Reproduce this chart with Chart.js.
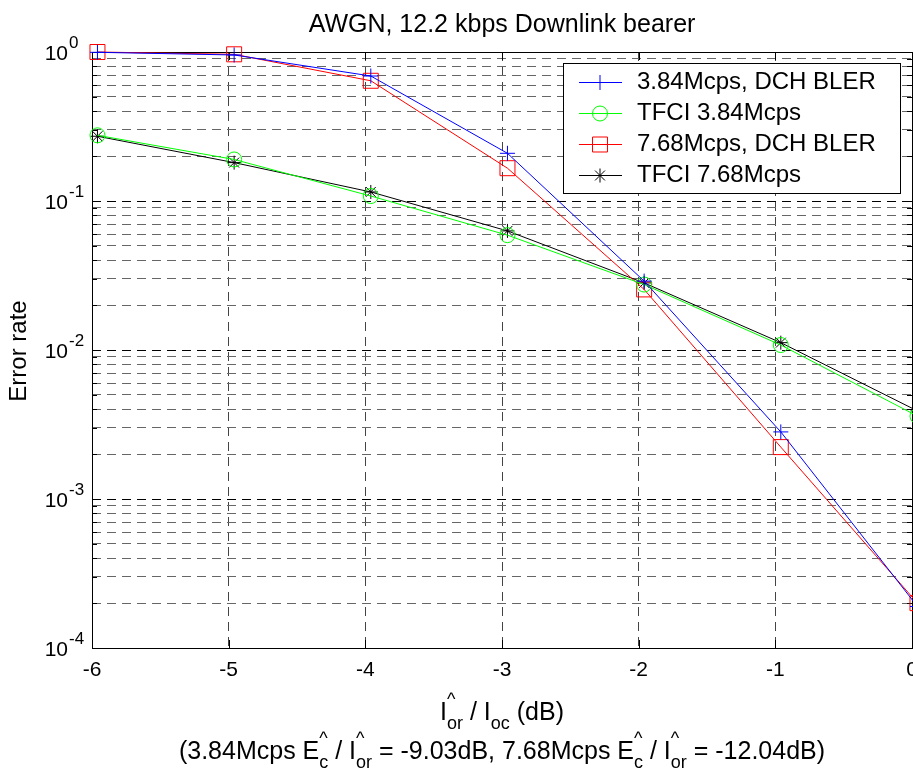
<!DOCTYPE html>
<html><head><meta charset="utf-8">
<script src="https://cdn.jsdelivr.net/npm/chart.js@4.4.1/dist/chart.umd.min.js"></script>
<style>html,body{margin:0;padding:0;background:#fff;overflow:hidden}#wrap{position:relative;width:913px;height:769px;overflow:hidden}#c{position:absolute;left:0;top:0}</style>
</head><body><div id="wrap"><canvas id="c" width="953" height="769"></canvas></div>
<script>
// ---- data ----
const xValues = [-5.96, -4.96, -3.96, -2.96, -1.96, -0.96, 0.04];
const bler384 = [0.995, 0.955, 0.69, 0.209, 0.029, 0.00282, 1.9e-4];
const tfci384 = [0.276, 0.19, 0.108, 0.059, 0.0275, 0.0108, 0.0036];
const bler768 = [1.0, 0.965, 0.641, 0.166, 0.0255, 0.00223, 2.0e-4];
const tfci768 = [0.272, 0.181, 0.115, 0.063, 0.0282, 0.0112, 0.0039];
const seriesNames = ['3.84Mcps, DCH BLER', 'TFCI 3.84Mcps', '7.68Mcps, DCH BLER', 'TFCI 7.68Mcps'];
const xTicks = [-6, -5, -4, -3, -2, -1, 0];
const yDecades = [-4, -3, -2, -1, 0];
const titleText = 'AWGN, 12.2 kbps Downlink bearer';
const yLabel = 'Error rate';

// ---- layout / style ----
const CW = 953, H = 769;
const AREA = {left: 92, right: 912, top: 52, bottom: 648};
const FONT = '"Liberation Sans", Arial, Helvetica, sans-serif';
const DASH = [9, 6];

const yGridValues = [];
yDecades.forEach(k => {
  if (k === 0) { yGridValues.push(1); return; }
  for (let m = 1; m <= 9; m++) yGridValues.push(+(m * Math.pow(10, k)).toPrecision(6));
});
const isDecade = v => Math.abs(Math.log10(v) - Math.round(Math.log10(v))) < 1e-9;

function mk(i, data, color, style, radius) {
  return {
    label: seriesNames[i],
    data: xValues.map((x, j) => ({x: x, y: data[j]})),
    borderColor: color, backgroundColor: 'rgba(0,0,0,0)',
    borderWidth: 1, tension: 0, clip: false,
    pointStyle: style, pointRadius: radius, pointHoverRadius: radius,
    pointBorderColor: color, pointBackgroundColor: 'rgba(0,0,0,0)', pointBorderWidth: 1
  };
}

function drawMixed(ctx, parts, cx, baseY, main, small) {
  const mf = main + 'px ' + FONT, sf = small + 'px ' + FONT;
  let total = 0;
  const widths = parts.map(p => {
    if (p.t !== undefined) { ctx.font = mf; return ctx.measureText(p.t).width; }
    ctx.font = sf;
    return Math.max(p.sup ? ctx.measureText(p.sup).width : 0, p.sub ? ctx.measureText(p.sub).width : 0);
  });
  widths.forEach(w => total += w);
  let x = cx - total / 2;
  ctx.textAlign = 'left'; ctx.textBaseline = 'alphabetic'; ctx.fillStyle = '#000';
  parts.forEach((p, i) => {
    if (p.t !== undefined) { ctx.font = mf; ctx.fillText(p.t, x, baseY); }
    else {
      ctx.font = sf;
      if (p.sup) ctx.fillText(p.sup, x, baseY - main * 0.6);
      if (p.sub) ctx.fillText(p.sub, x, baseY + 9);
    }
    x += widths[i];
  });
}

const decor = {
  id: 'decor',
  beforeDraw(chart) {
    const c = chart.ctx; c.save(); c.fillStyle = '#fff'; c.fillRect(0, 0, CW, H); c.restore();
  },
  beforeDatasetsDraw(chart) {
    const c = chart.ctx, a = chart.chartArea;
    const xs = chart.scales.x, ys = chart.scales.y;
    c.save();
    c.strokeStyle = '#000'; c.lineWidth = 1; c.setLineDash([]);
    c.strokeRect(Math.round(a.left) + 0.5, Math.round(a.top) + 0.5, Math.round(a.right - a.left), Math.round(a.bottom - a.top));
    c.beginPath();
    xTicks.forEach(v => {
      const px = Math.round(xs.getPixelForValue(v)) + 0.5;
      c.moveTo(px, a.bottom); c.lineTo(px, a.bottom - 8);
      c.moveTo(px, a.top); c.lineTo(px, a.top + 8);
    });
    yGridValues.forEach(v => {
      const py = Math.round(ys.getPixelForValue(v)) + 0.5;
      const len = isDecade(v) ? 8 : 5;
      c.moveTo(a.left, py); c.lineTo(a.left + len, py);
      c.moveTo(a.right, py); c.lineTo(a.right - len, py);
    });
    c.stroke();
    c.restore();
  },
  afterDraw(chart) {
    const c = chart.ctx, a = chart.chartArea;
    const ys = chart.scales.y;
    c.save();
    c.fillStyle = '#000';
    yDecades.forEach(k => {
      const py = ys.getPixelForValue(Math.pow(10, k));
      c.font = '21px ' + FONT; c.textAlign = 'right'; c.textBaseline = 'alphabetic';
      c.fillText('10', 68, py + 7.5);
      c.font = '17px ' + FONT; c.textAlign = 'left';
      c.fillText(String(k), 69, py - 4);
    });
    c.font = '25px ' + FONT; c.textAlign = 'center'; c.textBaseline = 'alphabetic';
    c.fillText(titleText, (a.left + a.right) / 2, 32);
    c.save(); c.translate(19, (a.top + a.bottom) / 2 + 1); c.rotate(-Math.PI / 2);
    c.font = '24px ' + FONT; c.textAlign = 'center'; c.textBaseline = 'middle';
    c.fillText(yLabel, 0, 0); c.restore();
    const cx = (a.left + a.right) / 2;
    drawMixed(c, [{t: 'I'}, {sup: '^', sub: 'or'}, {t: ' / I'}, {sub: 'oc'}, {t: ' (dB)'}], cx, 720, 25, 18);
    drawMixed(c, [{t: '(3.84Mcps E'}, {sup: '^', sub: 'c'}, {t: ' / I'}, {sup: '^', sub: 'or'},
      {t: ' = -9.03dB, 7.68Mcps E'}, {sup: '^', sub: 'c'}, {t: ' / I'}, {sup: '^', sub: 'or'}, {t: ' = -12.04dB)'}],
      cx, 759, 25, 18);
    const lx = 563, ly = 63, lw = 337, lh = 130;
    c.fillStyle = '#fff'; c.fillRect(lx, ly, lw, lh);
    c.strokeStyle = '#000'; c.lineWidth = 1; c.strokeRect(lx + 0.5, ly + 0.5, lw, lh);
    const rows = [82, 113, 144, 175];
    chart.data.datasets.forEach((ds, i) => {
      const y = rows[i];
      c.strokeStyle = ds.borderColor; c.lineWidth = 1;
      c.beginPath(); c.moveTo(579, y + 0.5); c.lineTo(622, y + 0.5); c.stroke();
      c.fillStyle = 'rgba(0,0,0,0)';
      Chart.helpers.drawPoint(c, {pointStyle: ds.pointStyle, radius: ds.pointRadius, rotation: 0, borderWidth: 1}, 600, y + 0.5);
      c.fillStyle = '#000'; c.font = '24px ' + FONT; c.textAlign = 'left'; c.textBaseline = 'middle';
      c.fillText(ds.label, 637, y);
    });
    c.restore();
  }
};

new Chart(document.getElementById('c'), {
  type: 'line',
  data: {datasets: [
    mk(0, bler384, '#0000ff', 'cross', 7.5),
    mk(1, tfci384, '#00ff00', 'circle', 7.5),
    mk(2, bler768, '#ff0000', 'rect', 10.6),
    mk(3, tfci768, '#000000', 'star', 7)
  ]},
  options: {
    responsive: false, animation: false, events: [],
    layout: {padding: {left: 0, right: CW - AREA.right, top: AREA.top, bottom: 0}},
    plugins: {legend: {display: false}, tooltip: {enabled: false}, title: {display: false}},
    scales: {
      x: {
        type: 'linear', min: -6, max: 0,
        afterBuildTicks: s => { s.ticks = xTicks.map(v => ({value: v})); },
        afterFit: s => { s.height = H - AREA.bottom; s.paddingLeft = 0; s.paddingRight = 0; },
        ticks: {font: {family: FONT, size: 21}, color: '#000', padding: 10, autoSkip: false, maxRotation: 0},
        grid: {color: '#444', lineWidth: 1, drawTicks: false},
        border: {display: false, dash: DASH}
      },
      y: {
        type: 'logarithmic', min: 1e-4, max: 1,
        afterBuildTicks: s => { s.ticks = yGridValues.map(v => ({value: v, major: isDecade(v)})); },
        afterFit: s => { s.width = AREA.left; },
        ticks: {display: false, autoSkip: false},
        grid: {color: ctx => (ctx.tick && isDecade(ctx.tick.value)) ? '#000' : '#666', lineWidth: 1, drawTicks: false},
        border: {display: false, dash: DASH}
      }
    }
  },
  plugins: [decor]
});
</script></body></html>
